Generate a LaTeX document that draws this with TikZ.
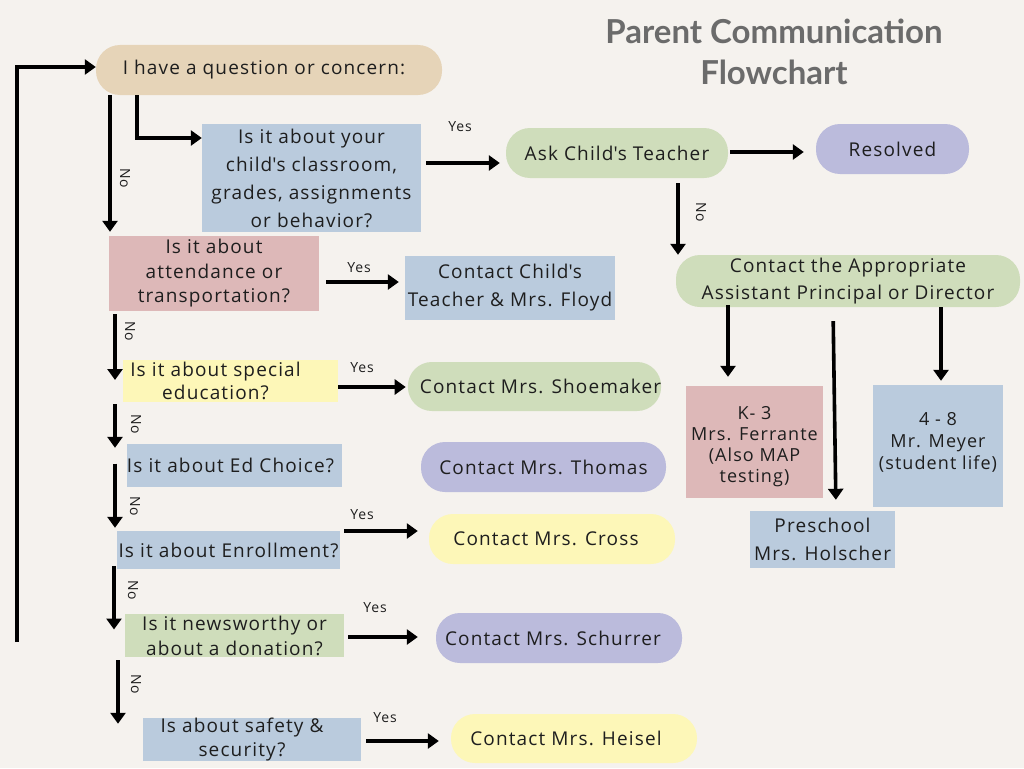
\documentclass[tikz,border=0pt]{standalone}
\usepackage{fontspec}
\setmainfont{Open Sans}[LetterSpace=6]
\newfontfamily\titlefont{Lato}
\usetikzlibrary{arrows.meta}
\definecolor{bg}{HTML}{F5F2EE}
\definecolor{ctan}{HTML}{E6D4B8}
\definecolor{cblue}{HTML}{BACBDD}
\definecolor{cgreen}{HTML}{CFDDBB}
\definecolor{cpurple}{HTML}{BBBBDC}
\definecolor{cpink}{HTML}{DDB8B8}
\definecolor{cyellow}{HTML}{FDF7B8}
\definecolor{ctitle}{HTML}{6B6B6B}
\definecolor{txt}{HTML}{1E1E1E}
\newcommand{\sq}{\textquotesingle}
\newcommand{\shiftedlines}[2]{\raisebox{-#1}[0pt][0pt]{\begin{tabular}{@{}c@{}}#2\end{tabular}}}
\begin{document}
\begin{tikzpicture}[x=1pt,y=-1pt,
  base/.style={inner sep=0pt, align=center, text=txt, font=\fontsize{19}{26}\selectfont},
  rbox/.style={base, rectangle},
  pill/.style={base, rounded corners=24pt},
  arr/.style={draw=black, line width=3.6pt, -{Triangle[width=15pt,length=11pt]}},
  yeslab/.style={inner sep=0pt, text=txt, font=\fontsize{14}{16}\selectfont},
  nolab/.style={yeslab, rotate=-90},
  titlestyle/.style={inner sep=0pt, align=center, text=ctitle, font=\titlefont\bfseries\fontsize{33}{41}\selectfont}
]
\fill[bg] (0,0) rectangle (1024,768);
\useasboundingbox (0,0) rectangle (1024,768);

% title
\node[titlestyle] (title) at (774,52) {Parent Communication\\Flowchart};

% left column
\node[pill, fill=ctan, minimum width=346pt, minimum height=50pt] (start) at (269,70) {\hspace*{-10pt}I have a question or concern:};
\node[rbox, fill=cblue, minimum width=219pt, minimum height=108pt, font=\fontsize{19}{28}\selectfont] (q1) at (311.5,178) {Is it about your\\child\sq s classroom,\\grades, assignments\\or behavior?};
\node[rbox, fill=cpink, minimum width=210pt, minimum height=75pt, font=\fontsize{19}{24.5}\selectfont] (q2) at (214,273.5) {Is it about\\attendance or\\transportation?};
\node[rbox, fill=cyellow, minimum width=215pt, minimum height=42pt, font=\fontsize{19}{23}\selectfont] (q3) at (230.5,381) {\hspace*{-30pt}Is it about special\\\hspace*{-30pt}education?};
\node[rbox, fill=cblue, minimum width=215pt, minimum height=43pt] (q4) at (234.5,465.5) {\hspace*{-8pt}Is it about Ed Choice?};
\node[rbox, fill=cblue, minimum width=223pt, minimum height=38pt] (q5) at (228.5,550) {Is it about Enrollment?};
\node[rbox, fill=cgreen, minimum width=219pt, minimum height=43pt, font=\fontsize{19}{25}\selectfont] (q6) at (234.5,635.5) {Is it newsworthy or\\about a donation?};
\node[rbox, fill=cblue, minimum width=218pt, minimum height=43pt, font=\fontsize{19}{24}\selectfont] (q7) at (252,739.5) {\hspace*{-20pt}Is about safety \&\\\hspace*{-20pt}security?};

% middle column
\node[pill, fill=cgreen, minimum width=222pt, minimum height=50pt] (ask) at (617,153) {Ask Child\sq s Teacher};
\node[rbox, fill=cblue, minimum width=210pt, minimum height=64pt, font=\fontsize{19}{28}\selectfont] (floyd) at (510,288) {Contact Child\sq s\\Teacher \& Mrs. Floyd};
\node[pill, fill=cgreen, minimum width=245pt, minimum height=49pt] (shoe) at (534.5,386.5) {\hspace*{12pt}Contact Mrs. Shoemaker};
\node[pill, fill=cpurple, minimum width=245pt, minimum height=50pt] (thomas) at (543.5,467) {Contact Mrs. Thomas};
\node[pill, fill=cyellow, minimum width=246pt, minimum height=50pt] (cross) at (552,539) {\hspace*{-12pt}Contact Mrs. Cross};
\node[pill, fill=cpurple, minimum width=246pt, minimum height=50pt] (schurrer) at (559,638) {\hspace*{-12pt}Contact Mrs. Schurrer};
\node[pill, fill=cyellow, minimum width=246pt, minimum height=49pt] (heisel) at (574,738.5) {\hspace*{-16pt}Contact Mrs. Heisel};

% right column
\node[pill, fill=cpurple, minimum width=153pt, minimum height=50pt] (res) at (892.5,149) {Resolved};
\node[pill, fill=cgreen, minimum width=344pt, minimum height=52pt, font=\fontsize{19}{27}\selectfont] (ap) at (848,281) {Contact the Appropriate\\Assistant Principal or Director};
\node[rbox, fill=cpink, minimum width=137pt, minimum height=112pt, font=\fontsize{18}{21}\selectfont] (k3) at (754.5,442) {\shiftedlines{9pt}{K- 3\\Mrs. Ferrante\\(Also MAP\\testing)}};
\node[rbox, fill=cblue, minimum width=145pt, minimum height=57pt, font=\fontsize{19}{28}\selectfont] (pre) at (822.5,539.5) {Preschool\\Mrs. Holscher};
\node[rbox, fill=cblue, minimum width=130pt, minimum height=122pt, font=\fontsize{18}{22}\selectfont] (m48) at (938,446) {\shiftedlines{1.5pt}{4 - 8\\Mr. Meyer\\(student life)}};

% helper coordinates
\coordinate (xa) at (137,0);
\coordinate (ya) at (0,138);
\coordinate (x110) at (110,0);
\coordinate (x115) at (115,0);
\coordinate (x114) at (114,0);
\coordinate (x118) at (118,0);
\coordinate (x678) at (678,0);
\coordinate (x728) at (728,0);
\coordinate (x833) at (833,0);
\coordinate (x836) at (836,0);
\coordinate (x941) at (941,0);
\coordinate (y163) at (0,163);
\coordinate (y152) at (0,152);
\coordinate (y282) at (0,282);
\coordinate (y387) at (0,387);
\coordinate (y531) at (0,531);
\coordinate (y637) at (0,637);
\coordinate (y741) at (0,741);
\coordinate (loopend) at (17,642);

% connectors
\draw[arr] (loopend) |- ([yshift=3pt]start.west) ;
\draw[arr] (start.south -| xa) |- (q1.west |- ya);
\draw[arr, shorten >=4pt] (start.south -| x110) -- (q2.north -| x110);
\draw[arr, shorten <=5pt, shorten >=6pt] (q1.east |- y163) -- (ask.west |- y163);
\draw[arr, shorten <=2pt, shorten >=12pt] (ask.east |- y152) -- (res.west |- y152);
\draw[arr, shorten <=5pt] (ask.south -| x678) -- (ap.north -| x678);
\draw[arr, shorten <=-2pt, shorten >=9pt] (ap.south -| x728) -- (k3.north -| x728);
\draw[arr, shorten <=14pt, shorten >=11pt] (ap.south -| x833) -- (pre.north -| x836);
\draw[arr, shorten >=4pt] (ap.south -| x941) -- (m48.north -| x941);
\draw[arr, shorten <=7pt, shorten >=6pt] (q2.east |- y282) -- (floyd.west |- y282);
\draw[arr, shorten <=3pt, shorten >=1pt] (q2.south -| x115) -- (q3.west -| x115);
\draw[arr, shorten <=0pt, shorten >=2pt] (q3.east |- y387) -- (shoe.west |- y387);
\draw[arr, shorten <=2pt, shorten >=-4pt] (q3.south -| x115) -- (q4.north -| x115);
\draw[arr, shorten <=-2pt, shorten >=3pt] (q4.west -| x115) -- (q5.north -| x115);
\draw[arr, shorten <=4pt, shorten >=11pt] (q5.east |- y531) -- (cross.west |- y531);
\draw[arr, shorten <=-3pt, shorten >=6pt] (q5.south -| x114) -- (q6.west -| x114);
\draw[arr, shorten <=4pt, shorten >=18pt] (q6.east |- y637) -- (schurrer.west |- y637);
\draw[arr, shorten <=3pt, shorten >=-6pt] (q6.south -| x118) -- (q7.north -| x118);
\draw[arr, shorten <=5pt, shorten >=12pt] (q7.east |- y741) -- (heisel.west |- y741);

% labels
\node[yeslab] (yes1) at (460,127) {Yes};
\node[yeslab] (yes2) at (359,268) {Yes};
\node[yeslab] (yes3) at (362,368) {Yes};
\node[yeslab] (yes4) at (362,515) {Yes};
\node[yeslab] (yes5) at (375,608) {Yes};
\node[yeslab] (yes6) at (385,718) {Yes};
\node[nolab] (no1) at (125,178) {No};
\node[nolab] (no2) at (130,331) {No};
\node[nolab] (no3) at (136,424) {No};
\node[nolab] (no4) at (135,506) {No};
\node[nolab] (no5) at (133,590) {No};
\node[nolab] (no6) at (136,684) {No};
\node[nolab] (no7) at (701,212) {No};
\end{tikzpicture}
\end{document}
